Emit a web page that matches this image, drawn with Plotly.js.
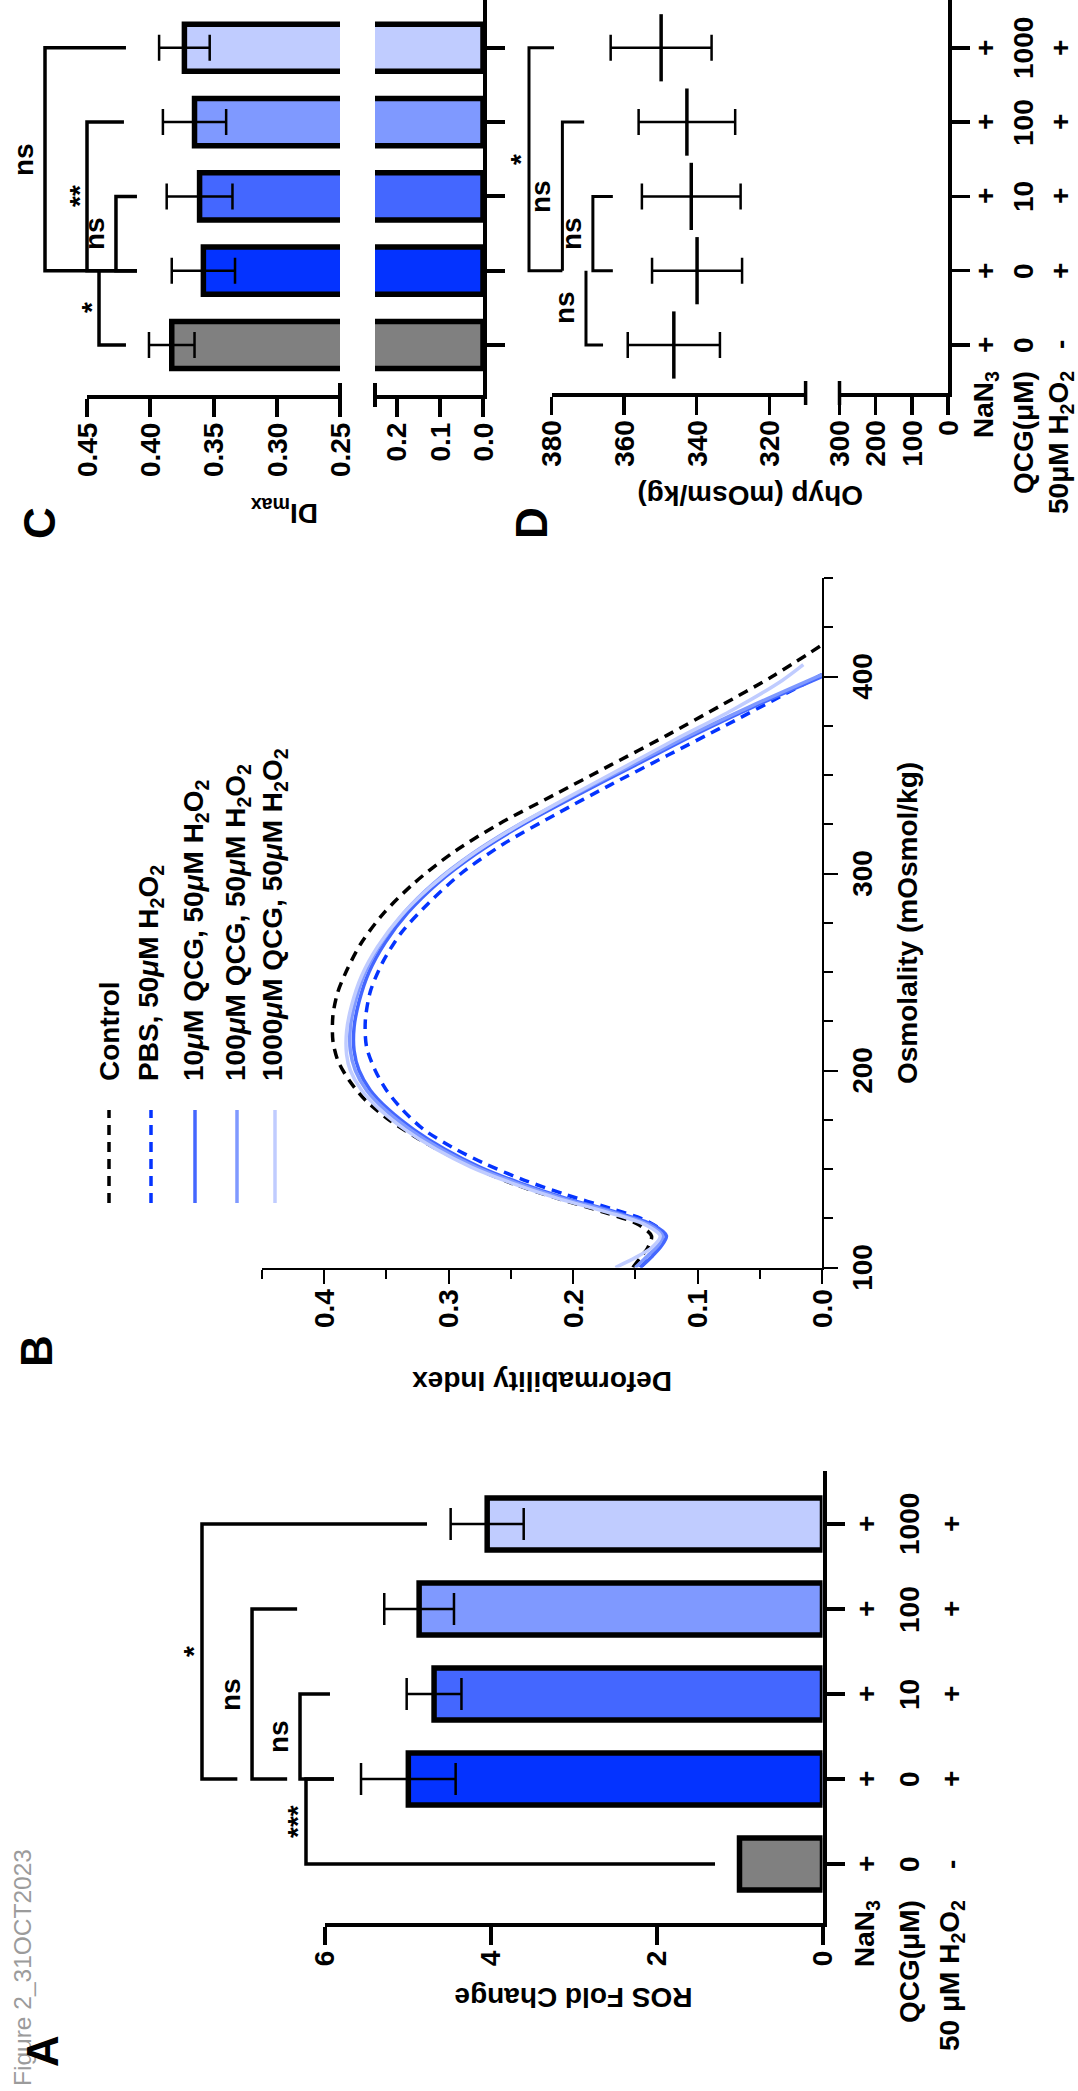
<!DOCTYPE html>
<html><head><meta charset="utf-8">
<script src="https://cdn.plot.ly/plotly-3.0.1.min.js"></script>
<style>
html,body{margin:0;padding:0;width:1078px;height:2091px;overflow:hidden;background:#fff;}
#wrap{position:absolute;left:0;top:0;width:2091px;height:1078px;transform-origin:0 0;transform:translate(0px,2091px) rotate(-90deg);}
#chart{width:2091px;height:1078px;}
</style></head>
<body><div id="wrap"><div id="chart"></div></div>
<script>
// ---------------- data ----------------
const groups   = ['Control','PBS','10 QCG','100 QCG','1000 QCG'];
const rowNaN3  = ['+','+','+','+','+'];
const rowQCG   = ['0','0','10','100','1000'];
const rowH2O2  = ['-','+','+','+','+'];
const groupColors = ['#808080','#0433ff','#4467ff','#7f99ff','#c0ccff'];

// Panel A: ROS fold change
const rosMean = [1.00, 4.99, 4.68, 4.86, 4.04];
const rosSD   = [0.00, 0.57, 0.33, 0.42, 0.44];
const rosTicks = [0, 2, 4, 6];

// Panel C: DI max
const dimaxMean = [0.383, 0.358, 0.361, 0.365, 0.373];
const dimaxSD   = [0.018, 0.025, 0.026, 0.025, 0.020];
const dimaxLowTicks  = [0, 0.1, 0.2];
const dimaxHighTicks = [0.25, 0.30, 0.35, 0.40, 0.45];

// Panel D: Ohyp
const ohypMean = [346.3, 339.9, 341.5, 342.7, 349.8];
const ohypSD   = [12.7, 12.4, 13.6, 13.3, 13.9];
const ohypLowTicks  = [0, 100, 200, 300];
const ohypHighTicks = [320, 340, 360, 380];

// Panel B: osmoscan curves
const curveNames = ['Control',
  'PBS, 50<i>μ</i>M H<sub>2</sub>O<sub>2</sub>',
  '10<i>μ</i>M QCG, 50<i>μ</i>M H<sub>2</sub>O<sub>2</sub>',
  '100<i>μ</i>M QCG, 50<i>μ</i>M H<sub>2</sub>O<sub>2</sub>',
  '1000<i>μ</i>M QCG, 50<i>μ</i>M H<sub>2</sub>O<sub>2</sub>'];
const curveColors = ['#000000','#0433ff','#4467ff','#7f99ff','#c0ccff'];
const curveDash   = ['10px,7px','10px,7px','solid','solid','solid'];

const osmControl = [100,105,110,116,122,128,135,142,150,158,166,175,185,195,205,215,228,240,252,265,280,295,310,325,340,355,370,385,400,416];
const diControl  = [0.152,0.146,0.140,0.137,0.148,0.175,0.212,0.246,0.277,0.303,0.326,0.348,0.367,0.380,0.389,0.393,0.393,0.389,0.381,0.370,0.352,0.328,0.298,0.260,0.215,0.170,0.125,0.082,0.040,0.000];
const osmPBS = [100,106,112,118,124,130,137,145,153,161,170,180,190,200,212,225,240,255,270,285,300,315,330,345,360,375,390,401];
const diPBS  = [0.146,0.137,0.130,0.128,0.142,0.170,0.206,0.242,0.272,0.297,0.320,0.337,0.350,0.359,0.366,0.367,0.363,0.353,0.338,0.316,0.290,0.256,0.214,0.170,0.124,0.078,0.033,0.000];
const osmQ10 = [100,106,111,116,122,128,135,143,151,160,170,180,190,200,210,222,235,250,265,280,295,310,325,340,355,370,385,400];
const diQ10  = [0.146,0.136,0.129,0.125,0.137,0.165,0.205,0.243,0.275,0.303,0.328,0.348,0.363,0.372,0.376,0.376,0.372,0.364,0.351,0.333,0.309,0.278,0.240,0.196,0.150,0.104,0.054,0.000];
const osmQ100 = [100,106,111,116,122,128,135,143,151,160,170,180,190,200,210,222,235,250,265,280,295,310,325,340,355,370,385,401];
const diQ100  = [0.150,0.140,0.132,0.128,0.140,0.168,0.208,0.246,0.278,0.306,0.331,0.351,0.366,0.375,0.379,0.379,0.375,0.367,0.354,0.336,0.312,0.281,0.243,0.199,0.153,0.107,0.057,0.000];
const osmQ1000 = [100,105,110,116,122,128,135,143,151,160,170,180,190,200,208,220,233,248,263,278,293,308,323,338,353,368,383,398,406];
const diQ1000  = [0.166,0.150,0.137,0.130,0.143,0.172,0.212,0.250,0.282,0.310,0.335,0.355,0.370,0.379,0.382,0.382,0.378,0.370,0.357,0.339,0.315,0.285,0.248,0.206,0.162,0.118,0.072,0.032,0.015];

const curveOsm = [osmControl, osmPBS, osmQ10, osmQ100, osmQ1000];
const curveDI  = [diControl, diPBS, diQ10, diQ100, diQ1000];

// significance brackets: [groupA, groupB, level, armA end, armB end, label]
const sigA = [[4,1,7.476,4.765,7.05,'*'],[3,1,6.873,6.33,6.45,'ns'],[2,1,6.295,5.934,5.886,'ns'],[0,1,6.223,1.295,5.886,'***']];
const sigC = [[4,1,0.4832,0.4192,0.4105,'ns'],[3,1,0.450,0.4208,0.4105,'**'],[2,1,0.4271,0.4105,0.4105,'ns'],[0,1,0.4405,0.4192,0.4405,'*']];
const sigD = [[4,1,386.2,379.3,377.0,'*'],[3,1,377.0,371.0,377.0,'ns'],[2,1,368.6,363.1,363.1,'ns'],[0,1,370.5,365.8,370.5,'ns']];

// ---------------- layout helpers ----------------
const W = 2091, H = 1078;
const FONT = 'Liberation Sans, Arial, Helvetica, sans-serif';
const idx = groups.map((g,i)=>i);

function axis(o){
  return Object.assign({
    showgrid:false, zeroline:false, showline:true, linecolor:'#000', linewidth:4,
    ticks:'outside', tickcolor:'#000', tickwidth:4, ticklen:18,
    tickfont:{family:FONT, size:28, color:'#000', weight:'bold'},
    fixedrange:true
  }, o);
}
const L = {
  width:W, height:H, margin:{l:0,r:0,t:0,b:0,pad:0},
  paper_bgcolor:'#ffffff', plot_bgcolor:'rgba(0,0,0,0)', showlegend:false,
  font:{family:FONT, size:28, color:'#000'},
  // A
  xaxis: axis({domain:[168/W,620/W], range:[-0.694,4.624], anchor:'y', tickmode:'array', tickvals:idx, showticklabels:false}),
  yaxis: axis({domain:[1-822.5/H,1-324.5/H], range:[0,6], anchor:'x', tickmode:'array', tickvals:rosTicks}),
  // B
  xaxis2: axis({domain:[823.5/W,1513/W], range:[100,450], anchor:'y2', linewidth:2, tickwidth:2, ticklen:14,
    tickmode:'linear', tick0:100, dtick:100,
    minor:{ticks:'outside', tickmode:'linear', tick0:100, dtick:25, ticklen:9, tickwidth:2, tickcolor:'#000', showgrid:false}}),
  yaxis2: axis({domain:[1-822/H,1-262/H], range:[0,0.45], anchor:'x2', linewidth:2, tickwidth:2, ticklen:14,
    tickmode:'linear', tick0:0, dtick:0.1, tickformat:'.1f',
    minor:{ticks:'outside', tickmode:'linear', tick0:0, dtick:0.05, ticklen:9, tickwidth:2, tickcolor:'#000', showgrid:false}}),
  // C
  xaxis3: axis({domain:[1696/W,1], range:[-0.673,4.643], anchor:'y3', tickmode:'array', tickvals:idx, showticklabels:false}),
  yaxis3: axis({domain:[1-483/H,1-375/H], range:[0,0.25], anchor:'x3', tickmode:'array', tickvals:dimaxLowTicks, tickformat:'.1f'}),
  yaxis4: axis({domain:[1-340/H,1-87/H], range:[0.25,0.45], anchor:'x3', tickmode:'array', tickvals:dimaxHighTicks, tickformat:'.2f'}),
  // D
  xaxis4: axis({domain:[1698/W,1], range:[-0.646,4.643], anchor:'y5', tickmode:'array', tickvals:idx, showticklabels:false, linewidth:3.5, tickwidth:3.5}),
  yaxis5: axis({domain:[1-948/H,1-839.5/H], range:[0,300], anchor:'x4', tickmode:'array', tickvals:ohypLowTicks, linewidth:3.5, tickwidth:3.5}),
  yaxis6: axis({domain:[1-805.6/H,1-551.5/H], range:[310,380], anchor:'x4', tickmode:'array', tickvals:ohypHighTicks, linewidth:3.5, tickwidth:3.5}),
  shapes:[], annotations:[]
};

function mapX(ax, v){ const d=ax.domain, r=ax.range; return (d[0]+(v-r[0])/(r[1]-r[0])*(d[1]-d[0]))*W; }
function mapY(ax, v){ const d=ax.domain, r=ax.range; return (1-(d[0]+(v-r[0])/(r[1]-r[0])*(d[1]-d[0])))*H; }
const px = X => X/W, py = Y => 1-Y/H;

function ann(text, X, Y, size, opts){
  L.annotations.push(Object.assign({text:text, xref:'paper', yref:'paper', x:px(X), y:py(Y),
    showarrow:false, xanchor:'center', yanchor:'middle', font:{family:FONT, size:size||28, color:'#000'}}, opts||{}));
}

function brackets(spec, xa, ya, lw){
  spec.forEach(s=>{
    const xA = mapX(xa, s[0]), xB = mapX(xa, s[1]);
    const yL = mapY(ya, s[2]), yA = mapY(ya, s[3]), yB = mapY(ya, s[4]);
    L.shapes.push({type:'path', xref:'paper', yref:'paper', layer:'above',
      path:`M${px(xA)},${py(yA)} L${px(xA)},${py(yL)} L${px(xB)},${py(yL)} L${px(xB)},${py(yB)}`,
      line:{color:'#000', width:lw}});
    const isStar = s[5].indexOf('*')>=0;
    const glyphY = yL - (isStar ? 14 : 19);
    L.annotations.push({text:'<b>'+s[5]+'</b>', xref:'paper', yref:'paper', x:px((xA+xB)/2), y:py(glyphY + (isStar?6:-2.5)),
      showarrow:false, xanchor:'center', yanchor:'middle', font:{family:FONT, size:28, color:'#000'}});
  });
}
brackets(sigA, L.xaxis, L.yaxis, 3.5);
brackets(sigC, L.xaxis3, L.yaxis4, 3.5);
brackets(sigD, L.xaxis4, L.yaxis6, 3);

// axis break caps
function cap(xa, ya, v, lw){
  const X = xa.domain[0]*W, Y = mapY(ya, v);
  L.shapes.push({type:'line', xref:'paper', yref:'paper', x0:px(X-12), x1:px(X+12), y0:py(Y), y1:py(Y), line:{color:'#000', width:lw}});
}
cap(L.xaxis3, L.yaxis3, L.yaxis3.range[1], 4);
cap(L.xaxis3, L.yaxis4, L.yaxis4.range[0], 4);
cap(L.xaxis4, L.yaxis5, L.yaxis5.range[1], 3.5);
cap(L.xaxis4, L.yaxis6, L.yaxis6.range[0], 3.5);

// category rows (A and D) — placed through the category axis mapping
function catRows(xa, rowsY, labelX, labels){
  [rowNaN3, rowQCG, rowH2O2].forEach((row, r)=>{
    row.forEach((t,i)=>{
      ann('<b>'+t+'</b>', mapX(xa, idx[i]), rowsY[r], 28);
    });
    ann('<b>'+labels[r]+'</b>', labelX, rowsY[r], 28, {xanchor:'right'});
  });
}
catRows(L.xaxis, [866, 909, 951.5], 193, ['NaN<sub>3</sub>','QCG(μM)','50 μM H<sub>2</sub>O<sub>2</sub>']);
catRows(L.xaxis4, [985, 1023, 1060], 1722, ['NaN<sub>3</sub>','QCG(μM)','50μM H<sub>2</sub>O<sub>2</sub>']);

// axis titles
ann('<b>ROS Fold Change</b>', 94, 573.5, 28, {textangle:-90});
ann('<b>Deformability Index</b>', 709, 542, 28, {textangle:-90});
ann('<b>Osmolality (mOsmol/kg)</b>', 1168, 907, 28);
ann('<b>DI<sub>max</sub></b>', 1579, 285, 28, {textangle:-90});
ann('<b>Ohyp (mOsm/kg)</b>', 1595, 750, 28, {textangle:-90});

// panel letters & figure tag
ann('Figure 2_31OCT2023', 3, 22, 24.5, {xanchor:'left', font:{family:FONT, size:24.5, color:'#9b9b9b'}});
ann('<b>A</b>', 40, 43, 44);
ann('<b>B</b>', 740, 36, 44);
ann('<b>C</b>', 1568, 40, 44);
ann('<b>D</b>', 1568, 531, 44);

// legend for B (manual)
const legY = [109, 151, 195, 237, 275];
curveNames.forEach((n,i)=>{
  L.shapes.push({type:'line', xref:'paper', yref:'paper', x0:px(888), x1:px(981), y0:py(legY[i]), y1:py(legY[i]),
    line:{color:curveColors[i], width:3.5, dash:curveDash[i]}});
  ann('<b>'+n+'</b>', 1008, legY[i], 28, {xanchor:'left'});
});

// ---------------- traces ----------------
const traces = [];
curveOsm.forEach((o,i)=>{
  traces.push({type:'scatter', mode:'lines', x:o, y:curveDI[i], xaxis:'x2', yaxis:'y2', name:curveNames[i],
    line:{color:curveColors[i], width:3.5, dash:curveDash[i], shape:'spline', smoothing:0.8}});
});
// A bars
traces.push({type:'bar', x:idx, y:rosMean, xaxis:'x', yaxis:'y', width:0.61,
  marker:{color:groupColors, line:{color:'#000', width:5.5}},
  error_y:{type:'data', array:rosSD, visible:true, color:'#000', thickness:2.5, width:16}});
// C bars (broken axis: lower and upper segments)
traces.push({type:'bar', x:idx, y:dimaxMean, xaxis:'x3', yaxis:'y3', width:0.635,
  marker:{color:groupColors, line:{color:'#000', width:5.5}}});
traces.push({type:'bar', x:idx, y:dimaxMean, xaxis:'x3', yaxis:'y4', width:0.635,
  marker:{color:groupColors, line:{color:'#000', width:5.5}},
  error_y:{type:'data', array:dimaxSD, visible:true, color:'#000', thickness:2.5, width:13}});
// D: empty trace so the lower broken-axis segment (x4/y5) is created
traces.push({type:'scatter', mode:'lines', x:[], y:[], xaxis:'x4', yaxis:'y5', hoverinfo:'skip'});
// D mean ± SD
traces.push({type:'scatter', mode:'markers', x:idx, y:ohypMean, xaxis:'x4', yaxis:'y6', cliponaxis:false,
  marker:{symbol:'line-ew', size:48, color:'#000', line:{color:'#000', width:3.5}},
  error_y:{type:'data', array:ohypSD, visible:true, color:'#000', thickness:2.5, width:13}});

Plotly.newPlot('chart', traces, L, {staticPlot:true, displayModeBar:false});
</script>
</body></html>
